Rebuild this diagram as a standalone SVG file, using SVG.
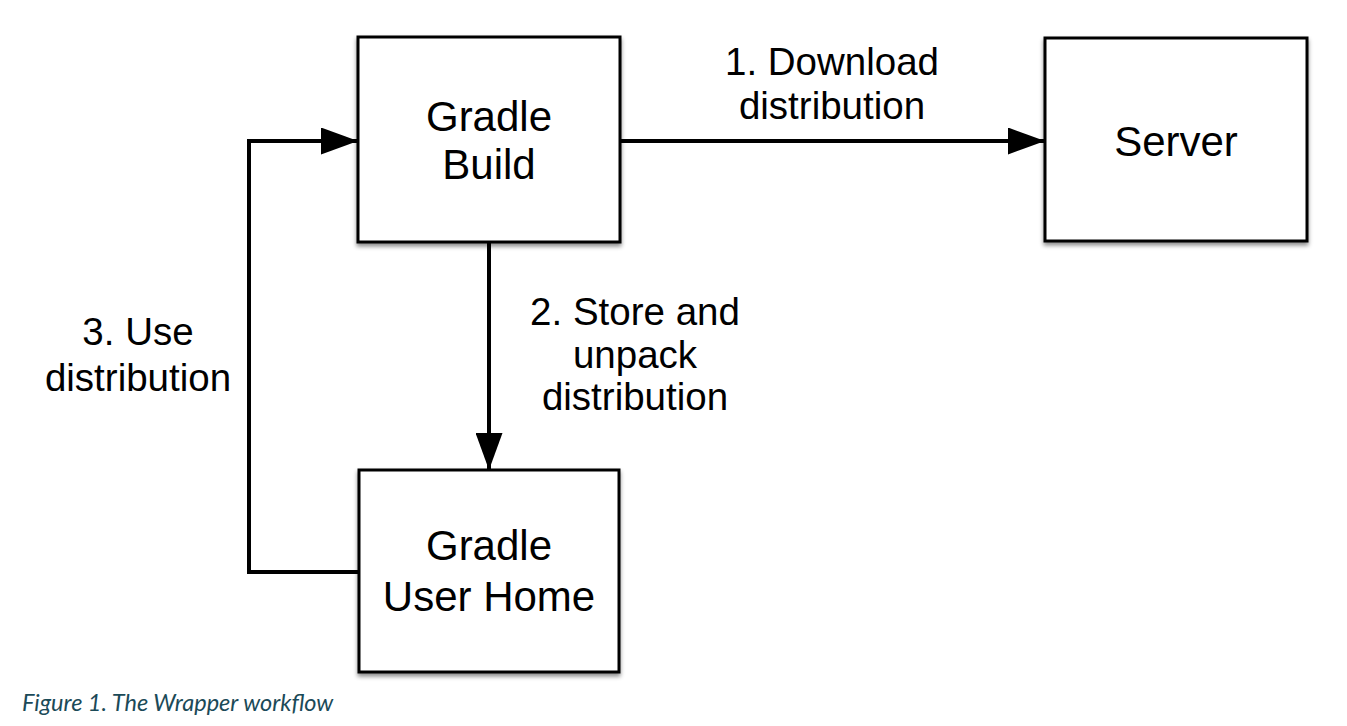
<svg xmlns="http://www.w3.org/2000/svg" width="1347" height="726" viewBox="0 0 1347 726">
  <defs>
    <filter id="shadow" x="-10%" y="-10%" width="120%" height="130%">
      <feDropShadow dx="0" dy="3" stdDeviation="2" flood-color="#000" flood-opacity="0.45"/>
    </filter>
    <marker id="arrow" viewBox="0 0 37 27" refX="37" refY="13.5" markerWidth="37" markerHeight="27" markerUnits="userSpaceOnUse" orient="auto">
      <path d="M0,0 L37,13.5 L0,27 Z" fill="#000"/>
    </marker>
    <style>
      .box { fill: #fff; stroke: #000; stroke-width: 3; filter: url(#shadow); }
      .node-text { font-family: "Liberation Sans", Arial, sans-serif; font-size: 42px; fill: #000; text-anchor: middle; }
      .label { font-family: "Liberation Sans", Arial, sans-serif; font-size: 38.5px; fill: #000; text-anchor: middle; }
      .conn { fill: none; stroke: #000; stroke-width: 4; }
      .caption { font-family: Lato, "Open Sans", sans-serif; font-style: italic; font-size: 23.5px; fill: #1b4a58; }
    </style>
  </defs>
  <rect width="1347" height="726" fill="#fff"/>

  <g id="connectors">
    <path class="conn" d="M620,141 L1045,141" marker-end="url(#arrow)"/>
    <path class="conn" d="M489,242 L489,470" marker-end="url(#arrow)"/>
    <path class="conn" d="M359,572 L249,572 L249,141 L358,141" marker-end="url(#arrow)"/>
    <text class="label" x="832" y="75">1. Download</text>
    <text class="label" x="832" y="119">distribution</text>
    <text class="label" x="635" y="325">2. Store and</text>
    <text class="label" x="635" y="368">unpack</text>
    <text class="label" x="635" y="410">distribution</text>
    <text class="label" x="138" y="345">3. Use</text>
    <text class="label" x="138" y="391">distribution</text>
  </g>

  <g id="gradle-build">
    <rect class="box" x="358" y="37" width="262" height="205"/>
    <text class="node-text" x="489" y="131">Gradle</text>
    <text class="node-text" x="489" y="179">Build</text>
  </g>

  <g id="server">
    <rect class="box" x="1045" y="38" width="262" height="203"/>
    <text class="node-text" x="1176" y="156">Server</text>
  </g>

  <g id="gradle-user-home">
    <rect class="box" x="359" y="470" width="260" height="202"/>
    <text class="node-text" x="489" y="560">Gradle</text>
    <text class="node-text" x="489" y="611">User Home</text>
  </g>

  <text class="caption" x="22" y="711">Figure 1. The Wrapper workflow</text>
</svg>
